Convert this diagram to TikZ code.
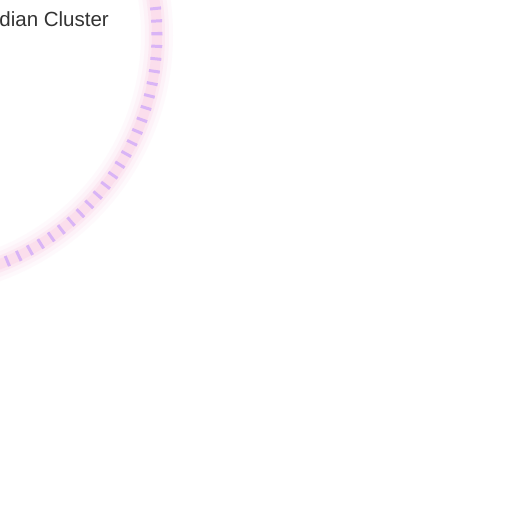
\documentclass[tikz,border=0pt]{standalone}
\usepackage{fontspec}
\setsansfont{Liberation Sans}
\usepackage{xcolor}
\usepackage{tikz}
\usetikzlibrary{positioning,shapes.geometric}
\definecolor{lilac}{HTML}{D9B4F6}
\definecolor{blush}{HTML}{FBA5CC}
\definecolor{bk80}{HTML}{333333}
\tikzset{
  ringglow/.style={
    circle, draw=blush, draw opacity=#1, fill=none, inner sep=0pt
  },
  ringglow/.default=0.1,
  clusterring/.style={
    circle, draw=lilac, line width=11pt, inner sep=0pt,
    dash pattern=on 3pt off 9.54pt
  },
  clusterlabel/.style={
    font=\sffamily\fontsize{20.5}{24}\selectfont, text=bk80,
    inner sep=0pt, anchor=base east
  },
}
\begin{document}
\begin{tikzpicture}[x=1pt,y=-1pt]
\useasboundingbox[fill=white] (0,0) rectangle (512,512);

% soft halo round the ring
\foreach \w/\o in {32/0.06,24/0.08,16/0.12,10/0.15}{
  \node[ringglow=\o, line width=\w pt, minimum size=491pt] at (-88.5,35) {};
}

% ring of the cluster
\node[clusterring, minimum size=491pt] (cluster) at (-88.5,35) {};

% name of the cluster
\node[clusterlabel] (clustername) at (109,26.5) {dian Cluster};

\end{tikzpicture}
\end{document}
